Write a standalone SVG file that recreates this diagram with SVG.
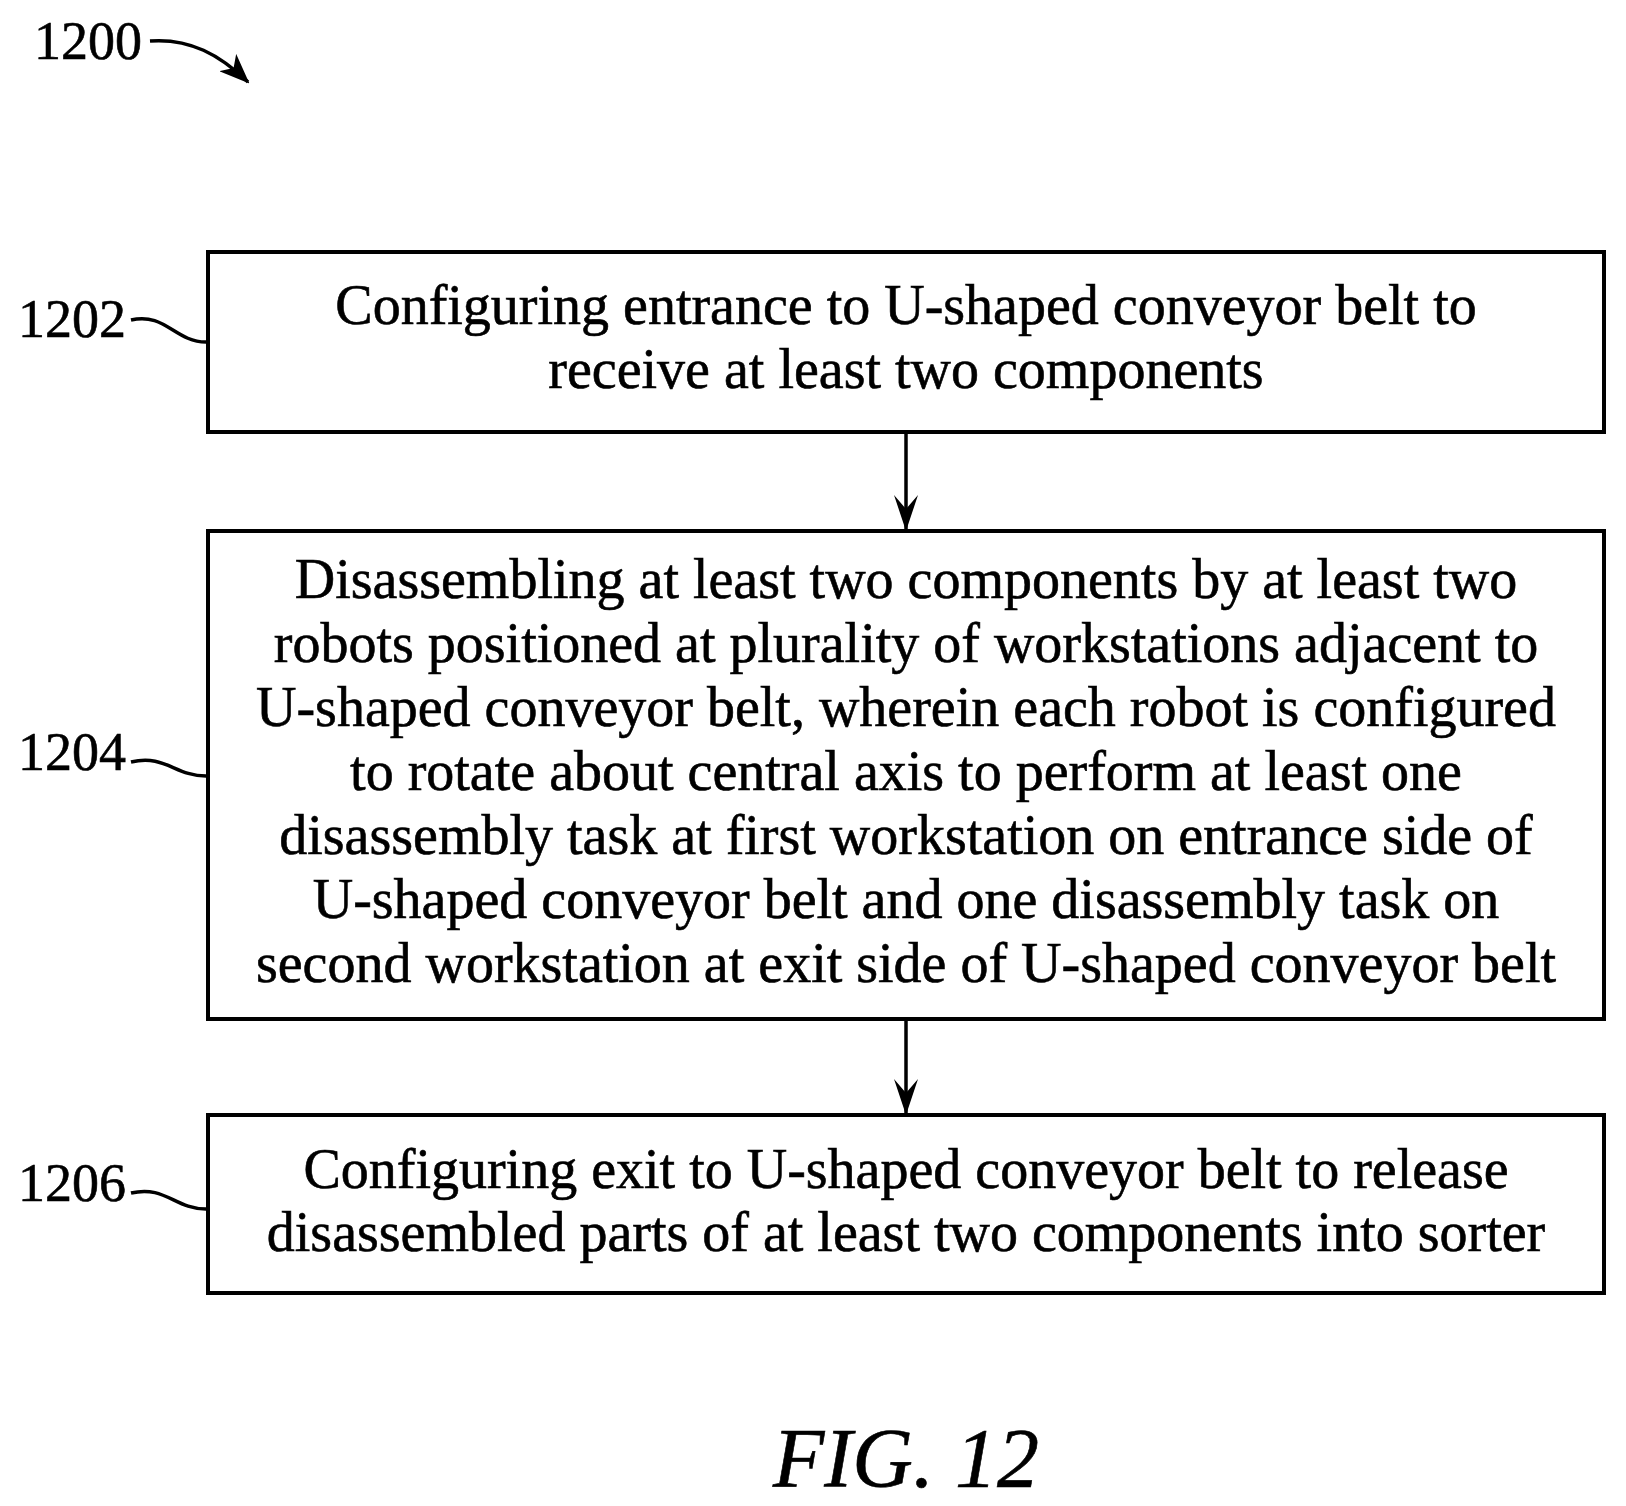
<svg xmlns="http://www.w3.org/2000/svg" width="1626" height="1506" viewBox="0 0 1626 1506">
<style>
text{font-family:"Liberation Serif","Times New Roman",serif;fill:#000;stroke:#000;stroke-width:0.6}
.t{font-size:56px;text-anchor:middle}
.l{font-size:54px}
.b{fill:#fff;stroke:#000;stroke-width:4}
.c{fill:none;stroke:#000;stroke-width:3.5}
</style>
<defs><marker id="a" markerWidth="26" markerHeight="36" refX="13" refY="34" orient="0" markerUnits="userSpaceOnUse"><path d="M1,0 L13,36 L25,0 L13,14 Z" fill="#000"/></marker>
<marker id="a2" markerWidth="30" markerHeight="24" refX="28" refY="12" orient="auto" markerUnits="userSpaceOnUse"><path d="M0,0 L30,12 L0,24 L8,12 Z" fill="#000"/></marker></defs>
<g id="n1200"><text class="l" x="34" y="59">1200</text></g>
<g id="n1202"><rect class="b" x="208" y="252" width="1396" height="180"/>
<text class="t" x="906" y="324">Configuring entrance to U-shaped conveyor belt to</text>
<text class="t" x="906" y="388">receive at least two components</text>
<text class="l" x="18" y="337">1202</text></g>
<g id="n1204"><rect class="b" x="208" y="531" width="1396" height="488"/>
<text class="t" x="906" y="598">Disassembling at least two components by at least two</text>
<text class="t" x="906" y="662">robots positioned at plurality of workstations adjacent to</text>
<text class="t" x="906" y="726">U-shaped conveyor belt, wherein each robot is configured</text>
<text class="t" x="906" y="790">to rotate about central axis to perform at least one</text>
<text class="t" x="906" y="854">disassembly task at first workstation on entrance side of</text>
<text class="t" x="906" y="918">U-shaped conveyor belt and one disassembly task on</text>
<text class="t" x="906" y="982">second workstation at exit side of U-shaped conveyor belt</text>
<text class="l" x="18" y="770">1204</text></g>
<g id="n1206"><rect class="b" x="208" y="1115" width="1396" height="178"/>
<text class="t" x="906" y="1188">Configuring exit to U-shaped conveyor belt to release</text>
<text class="t" x="906" y="1251">disassembled parts of at least two components into sorter</text>
<text class="l" x="18" y="1201">1206</text></g>
<g id="connectors">
<path class="c" d="M150,41 C190,38 220,55 248,82" marker-end="url(#a2)"/>
<path class="c" d="M131,320 C165,312 175,342 206,342"/>
<path class="c" d="M131,762 C165,754 175,776 206,776"/>
<path class="c" d="M131,1193 C165,1185 175,1209 206,1209"/>
<line class="c" x1="906" y1="432" x2="906" y2="529" marker-end="url(#a)"/>
<line class="c" x1="906" y1="1019" x2="906" y2="1113" marker-end="url(#a)"/>
</g>
<text x="906" y="1487" style="font-size:84px;font-style:italic;text-anchor:middle">FIG. 12</text>
</svg>
